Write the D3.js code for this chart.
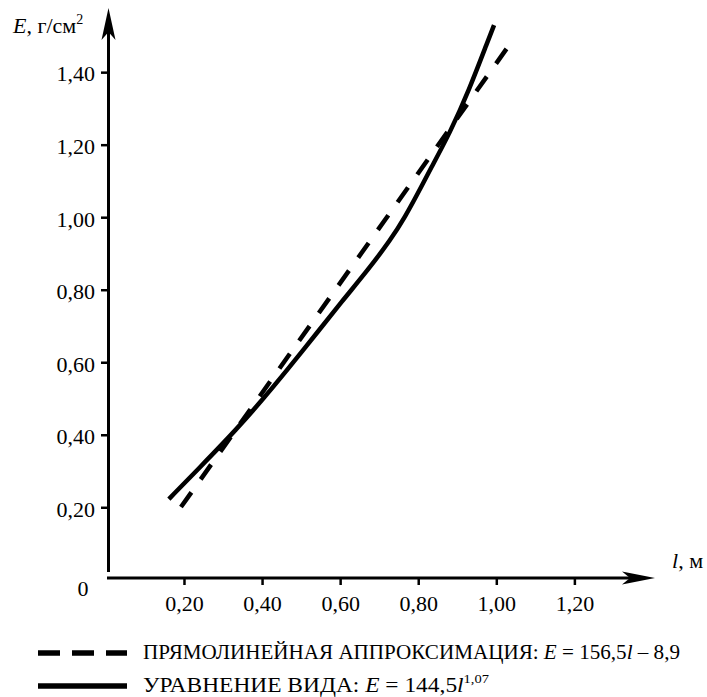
<!DOCTYPE html>
<html><head><meta charset="utf-8">
<script src="https://cdn.jsdelivr.net/npm/d3@7"></script>
<style>
html,body{margin:0;padding:0;background:#fff;}
svg{display:block;}
</style></head>
<body>
<svg id="chart" width="707" height="697"></svg>
<script>
// ---- data ----
const xTicks = [0.2, 0.4, 0.6, 0.8, 1.0, 1.2];
const xTickLabels = ["0,20", "0,40", "0,60", "0,80", "1,00", "1,20"];
const yTicks = [0.2, 0.4, 0.6, 0.8, 1.0, 1.2, 1.4];
const yTickLabels = ["0,20", "0,40", "0,60", "0,80", "1,00", "1,20", "1,40"];
// straight-line approximation (dashed)
const linearL = [0.191, 1.041];
const linearE = [0.202, 1.490];
// power equation (solid)
const powerL = [0.160, 0.258, 0.332, 0.399, 0.463, 0.545, 0.606, 0.670, 0.728, 0.765, 0.802, 0.829, 0.880, 0.929, 0.978, 0.993];
const powerE = [0.224, 0.332, 0.415, 0.497, 0.580, 0.690, 0.773, 0.856, 0.939, 1.002, 1.076, 1.132, 1.234, 1.352, 1.490, 1.531];
const legendLabels = ["ПРЯМОЛИНЕЙНАЯ АППРОКСИМАЦИЯ: ", "УРАВНЕНИЕ ВИДА: "];

const FONT = "Liberation Serif";

// ---- scales ----
const x = d3.scaleLinear().domain([0, 1.5]).range([106.4, 106.4 + 1.5 * 390.4]);
const y = d3.scaleLinear().domain([0, 1.6]).range([580.3, 580.3 - 1.6 * 362.6]);

const svg = d3.select("#chart");
const axisY = 578;
const axisX = 108.5;

function txt(sel) { return sel.append("text").style("font-family", FONT).attr("fill", "#000"); }

// axes lines
svg.append("line").attr("x1", axisX).attr("x2", axisX).attr("y1", 572).attr("y2", 25)
  .attr("stroke", "#000").attr("stroke-width", 3);
svg.append("line").attr("x1", axisX - 1.5).attr("x2", 640).attr("y1", axisY).attr("y2", axisY)
  .attr("stroke", "#000").attr("stroke-width", 3);
// arrows
svg.append("path").attr("d", `M${axisX},8 L${axisX - 7},40 L${axisX},32 L${axisX + 7},40 Z`).attr("fill", "#000");
svg.append("path").attr("d", `M655,${axisY} L622,${axisY - 6.5} L630,${axisY} L622,${axisY + 6.5} Z`).attr("fill", "#000");

// y ticks
const yAxisG = svg.append("g");
yTicks.forEach((v, i) => {
  yAxisG.append("line").attr("x1", axisX - 7.5).attr("x2", axisX).attr("y1", y(v)).attr("y2", y(v))
    .attr("stroke", "#000").attr("stroke-width", 2.5);
  txt(yAxisG).attr("x", 95).attr("y", y(v)).attr("dy", "0.4em")
    .attr("text-anchor", "end").attr("font-size", 22).text(yTickLabels[i]);
});
// x ticks
const xAxisG = svg.append("g");
xTicks.forEach((v, i) => {
  xAxisG.append("line").attr("x1", x(v)).attr("x2", x(v)).attr("y1", axisY).attr("y2", axisY + 7)
    .attr("stroke", "#000").attr("stroke-width", 2.5);
  txt(xAxisG).attr("x", x(v)).attr("y", 611)
    .attr("text-anchor", "middle").attr("font-size", 22).text(xTickLabels[i]);
});
txt(svg).attr("x", 83).attr("y", 596).attr("text-anchor", "middle").attr("font-size", 22).text("0");

// axis titles
const yt = txt(svg).attr("x", 13).attr("y", 33).attr("font-size", 22);
yt.append("tspan").attr("font-style", "italic").text("E");
yt.append("tspan").text(", г/см");
yt.append("tspan").attr("font-size", 14).attr("dy", -9).text("2");

const xt = txt(svg).attr("x", 672).attr("y", 568).attr("font-size", 22);
xt.append("tspan").attr("font-style", "italic").text("l");
xt.append("tspan").text(", м");

// lines
const powerData = powerL.map((l, i) => [l, powerE[i]]);
const linearData = linearL.map((l, i) => [l, linearE[i]]);

svg.append("path").datum(powerData)
  .attr("d", d3.line().x(d => x(d[0])).y(d => y(d[1])).curve(d3.curveBasis))
  .attr("fill", "none").attr("stroke", "#000").attr("stroke-width", 4.5);
svg.append("path").datum(linearData)
  .attr("d", d3.line().x(d => x(d[0])).y(d => y(d[1])))
  .attr("fill", "none").attr("stroke", "#000").attr("stroke-width", 4.5)
  .attr("stroke-dasharray", "18,16");

// legend
svg.append("line").attr("x1", 38).attr("x2", 127).attr("y1", 653).attr("y2", 653)
  .attr("stroke", "#000").attr("stroke-width", 5.5).attr("stroke-dasharray", "22,12");
svg.append("line").attr("x1", 38).attr("x2", 127).attr("y1", 686).attr("y2", 686)
  .attr("stroke", "#000").attr("stroke-width", 5.5);

const l1 = txt(svg).attr("x", 143).attr("y", 659).attr("font-size", 21)
  .attr("textLength", 537).attr("lengthAdjust", "spacingAndGlyphs");
l1.append("tspan").text(legendLabels[0]);
l1.append("tspan").attr("font-style", "italic").text("E");
l1.append("tspan").text(" = 156,5");
l1.append("tspan").attr("font-style", "italic").text("l");
l1.append("tspan").text(" – 8,9");

const l2 = txt(svg).attr("x", 143).attr("y", 692).attr("font-size", 21)
  .attr("textLength", 346).attr("lengthAdjust", "spacingAndGlyphs");
l2.append("tspan").text(legendLabels[1]);
l2.append("tspan").attr("font-style", "italic").text("E");
l2.append("tspan").text(" = 144,5");
l2.append("tspan").attr("font-style", "italic").text("l");
l2.append("tspan").attr("font-size", 13).attr("dy", -9).text("1,07");
</script>
</body></html>
